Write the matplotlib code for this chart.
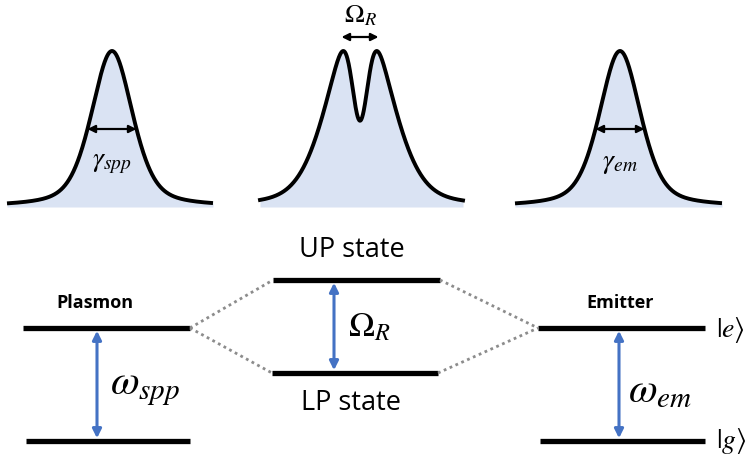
import numpy as np
import matplotlib.pyplot as plt

plt.rcParams["mathtext.fontset"] = "stix"

# spectra: centre, half-max width (pixel units of the canvas)
SPEC_CENTRES = [112, 360, 620]
SPEC_FWHM = [49, 49]
SPLIT = 35          # Rabi splitting of the middle spectrum
DIP_DEPTH = 0.57
SPEC_LABELS = [r"$\gamma_{spp}$", r"$\gamma_{em}$"]

# energy levels
LEVEL_NAMES = ["Plasmon", "Emitter"]
LEVEL_TOP = 328
LEVEL_BOTTOM = 441
POLARITON_UP = 280
POLARITON_LP = 373

FILL = "#DAE3F3"
BLUE = "#4472C4"
GREY = "#8C8C8C"


def pseudo_voigt(x, c, fwhm, eta=0.45):
    sigma = fwhm / 2.355
    g = np.exp(-(x - c) ** 2 / (2 * sigma ** 2))
    lor = 1 / (1 + ((x - c) / (fwhm / 2)) ** 2)
    return eta * lor + (1 - eta) * g


fig = plt.figure(figsize=(7.55, 4.61), dpi=100)
ax = fig.add_axes([0, 0, 1, 1])
ax.set_xlim(0, 755)
ax.set_ylim(461, 0)
ax.axis("off")

base, height = 207, 156

# side peaks
for c, fw, lab, (x0, x1) in zip([SPEC_CENTRES[0], SPEC_CENTRES[2]], SPEC_FWHM, SPEC_LABELS,
                                [(7, 213), (515, 722)]):
    x = np.linspace(x0, x1, 400)
    y = base - height * pseudo_voigt(x, c, fw)
    ax.fill_between(x, y, base, color=FILL, lw=0)
    ax.plot(x, y, color="black", lw=2.8, solid_capstyle="butt")
    yh = base - height / 2
    ax.annotate("", xy=(c - fw / 2, yh), xytext=(c + fw / 2, yh),
                arrowprops=dict(arrowstyle="<|-|>", color="black", lw=1.6,
                                mutation_scale=11, shrinkA=0, shrinkB=0))
    ax.text(c, yh + 33, lab, fontsize=20, ha="center", va="center")

# split peak in the middle
c = SPEC_CENTRES[1]
x = np.linspace(260, 463, 500)
env = pseudo_voigt(x, c, 70, eta=0.3)
dip = np.exp(-(x - c) ** 2 / (2 * 8.0 ** 2))
prof = env - DIP_DEPTH * dip
prof = prof / prof.max()
y = base - height * prof
ax.fill_between(x, y, base, color=FILL, lw=0)
ax.plot(x, y, color="black", lw=2.8)
ax.annotate("", xy=(c - SPLIT / 2 - 1, 37), xytext=(c + SPLIT / 2 + 1, 37),
            arrowprops=dict(arrowstyle="<|-|>", color="black", lw=1.6,
                            mutation_scale=11, shrinkA=0, shrinkB=0))
ax.text(c, 15, r"$\Omega_R$", fontsize=19, ha="center", va="center")

# levels
lv = dict(color="black", lw=3.8, solid_capstyle="butt")
ax.plot([23, 190], [LEVEL_TOP] * 2, **lv)
ax.plot([26, 190], [LEVEL_BOTTOM] * 2, **lv)
ax.plot([538, 705], [LEVEL_TOP] * 2, **lv)
ax.plot([540, 705], [LEVEL_BOTTOM] * 2, **lv)
ax.plot([273, 440], [POLARITON_UP] * 2, **lv)
ax.plot([272, 438], [POLARITON_LP] * 2, **lv)

dot = dict(color=GREY, lw=2.0, ls=(0, (1, 1.3)))
ax.plot([190, 273], [LEVEL_TOP, POLARITON_UP], **dot)
ax.plot([190, 272], [LEVEL_TOP, POLARITON_LP], **dot)
ax.plot([440, 538], [POLARITON_UP, LEVEL_TOP], **dot)
ax.plot([438, 538], [POLARITON_LP, LEVEL_TOP], **dot)

blue_arrow = dict(arrowstyle="<|-|>", color=BLUE, lw=2.2, mutation_scale=13,
                  shrinkA=2, shrinkB=2)
ax.annotate("", xy=(97, LEVEL_TOP), xytext=(97, LEVEL_BOTTOM), arrowprops=blue_arrow)
ax.annotate("", xy=(619, LEVEL_TOP), xytext=(619, LEVEL_BOTTOM), arrowprops=blue_arrow)
ax.annotate("", xy=(334, POLARITON_UP), xytext=(334, POLARITON_LP), arrowprops=blue_arrow)

ax.text(110, 387, r"$\omega_{spp}$", fontsize=30, ha="left", va="center")
ax.text(628, 390, r"$\omega_{em}$", fontsize=30, ha="left", va="center")
ax.text(348, 326, r"$\Omega_R$", fontsize=25, ha="left", va="center")

ax.text(95, 303, LEVEL_NAMES[0], fontsize=13, fontweight="bold", family="Open Sans",
        ha="center", va="center")
ax.text(620, 303, LEVEL_NAMES[1], fontsize=13, fontweight="bold", family="Open Sans",
        ha="center", va="center")
ax.text(352, 250, "UP state", fontsize=19.5, family="Open Sans", ha="center", va="center")
ax.text(351, 403, "LP state", fontsize=19.5, family="Open Sans", ha="center", va="center")

ax.text(716, 330, r"$|e\rangle$", fontsize=20, ha="left", va="center")
ax.text(716, 441, r"$|g\rangle$", fontsize=20, ha="left", va="center")

fig.savefig("out.png", dpi=100)
